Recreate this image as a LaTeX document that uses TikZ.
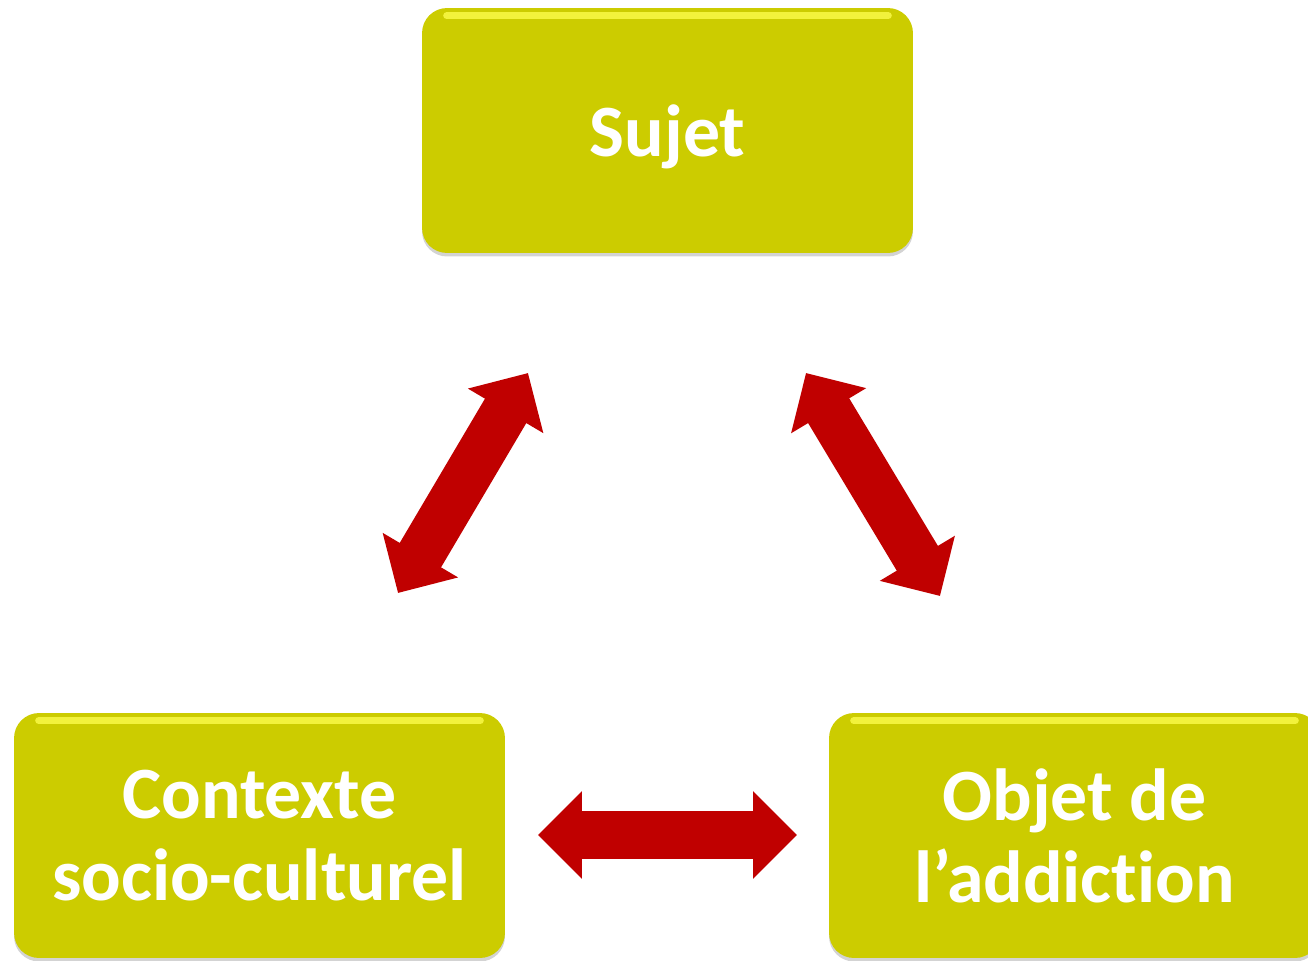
\documentclass[tikz,border=0pt]{standalone}
\usepackage{fontspec}
\setmainfont{Carlito}[RawFeature=-liga]
\usetikzlibrary{arrows.meta,shadows}

\definecolor{boxyellow}{HTML}{CCCC00}
\definecolor{arrowred}{HTML}{C00000}
\definecolor{glint}{HTML}{F2F23C}

\tikzset{
  pole/.style={rounded corners=0.5cm, fill=boxyellow, minimum width=9.82cm, minimum height=4.9cm,
    align=center, text=white, font=\bfseries\fontsize{42}{46.5}\selectfont, text depth=0pt,
    drop shadow={shadow xshift=0pt, shadow yshift=-2pt, opacity=0.35}},
  link/.style={line width=0.96cm, draw=arrowred,
    {Triangle[length=0.88cm,width=1.7cm]}-{Triangle[length=0.88cm,width=1.7cm]}},
  gloss/.style={line width=4pt, draw=glint, line cap=round}
}

\begin{document}
\begin{tikzpicture}[x=0.02cm, y=-0.02cm]
\clip (0,0) rectangle (1308,960);

\node[pole] (sujet) at (667.5,130.5) {Sujet};
\node[pole] (contexte) at (259.5,835.5) {Contexte\\socio-culturel};
\node[pole] (objet) at (1074.5,835.5) {Objet de\\l’addiction};

% reflets en haut des boites
\foreach \n in {sujet,contexte,objet}{
  \draw[gloss] ([xshift=0.5cm,yshift=-0.16cm]\n.north west) -- ([xshift=-0.5cm,yshift=-0.16cm]\n.north east);
}

% bouts des fleches
\coordinate (sg) at (528,373);
\coordinate (cg) at (398,593);
\coordinate (sd) at (806,373);
\coordinate (od) at (940,596);
\coordinate (ch) at (538,835);
\coordinate (oh) at (797,835);

\draw[link] (cg) -- (sg);
\draw[link] (sd) -- (od);
\draw[link] (ch) -- (oh);
\end{tikzpicture}
\end{document}
